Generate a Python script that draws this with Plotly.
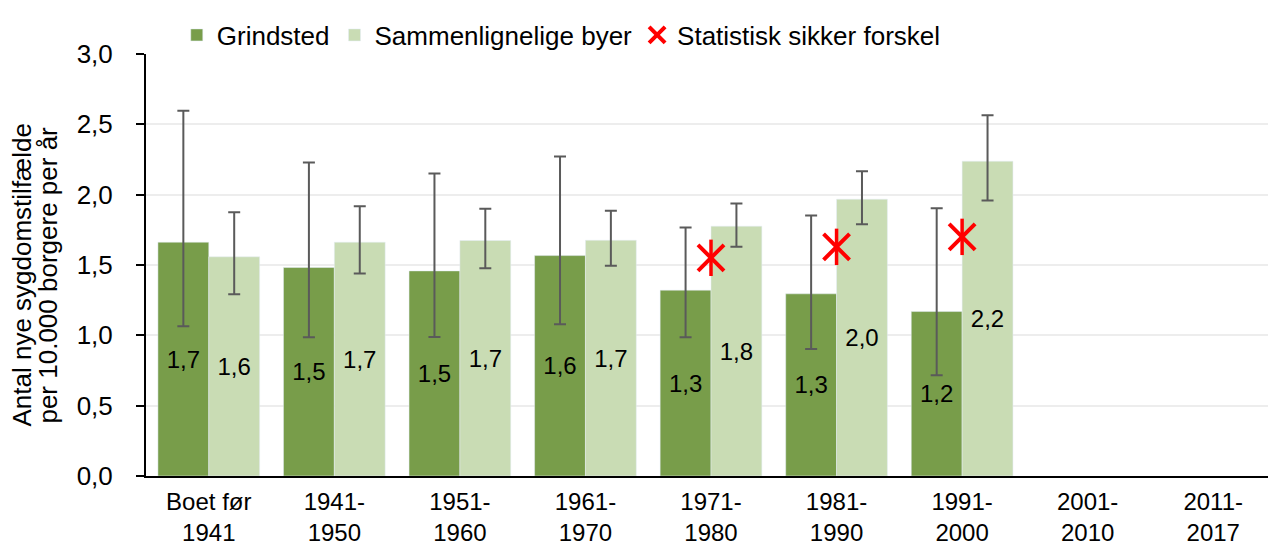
import plotly.graph_objects as go

categories = ["Boet før<br>1941", "1941-<br>1950", "1951-<br>1960", "1961-<br>1970",
              "1971-<br>1980", "1981-<br>1990", "1991-<br>2000", "2001-<br>2010", "2011-<br>2017"]

grindsted = [1.662, 1.482, 1.458, 1.567, 1.321, 1.295, 1.169, None, None]
grindsted_low = [1.065, 0.986, 0.989, 1.079, 0.986, 0.903, 0.716, None, None]
grindsted_high = [2.596, 2.229, 2.151, 2.271, 1.767, 1.852, 1.904, None, None]

sammen = [1.558, 1.662, 1.674, 1.676, 1.776, 1.968, 2.238, None, None]
sammen_low = [1.292, 1.440, 1.477, 1.494, 1.629, 1.790, 1.959, None, None]
sammen_high = [1.875, 1.918, 1.899, 1.885, 1.937, 2.167, 2.565, None, None]

sig_categories = ["1971-<br>1980", "1981-<br>1990", "1991-<br>2000"]
sig_values = [1.551, 1.629, 1.700]

y_title_lines = ["Antal nye sygdomstilfælde", "per 10.000 borgere per år"]

FONT = "Liberation Sans, Arial, sans-serif"
DARK = "#789d4a"
LIGHT = "#c9dcb4"
ERR = "#5a5a5a"
RED = "#ff0000"


def plus(v, hi):
    return [None if a is None else h - a for a, h in zip(v, hi)]


def minus(v, lo):
    return [None if a is None else a - l for a, l in zip(v, lo)]


fig = go.Figure()
fig.add_trace(go.Bar(
    name="Grindsted", x=categories, y=grindsted, marker_color=DARK,
    error_y=dict(type="data", symmetric=False, array=plus(grindsted, grindsted_high),
                 arrayminus=minus(grindsted, grindsted_low), color=ERR, thickness=2, width=6),
    texttemplate="%{y:.1f}", textposition="inside", insidetextanchor="middle",
    textfont=dict(size=24, color="black", family=FONT), textangle=0,
))
fig.add_trace(go.Bar(
    name="Sammenlignelige byer", x=categories, y=sammen, marker_color=LIGHT,
    error_y=dict(type="data", symmetric=False, array=plus(sammen, sammen_high),
                 arrayminus=minus(sammen, sammen_low), color=ERR, thickness=2, width=6),
    texttemplate="%{y:.1f}", textposition="inside", insidetextanchor="middle",
    textfont=dict(size=24, color="black", family=FONT), textangle=0,
))
fig.add_trace(go.Scatter(
    name="Statistisk sikker forskel", x=sig_categories, y=sig_values, mode="markers",
    marker=dict(symbol="x-thin-open", size=26, color=RED, line=dict(color=RED, width=4)),
))
fig.add_trace(go.Scatter(
    name="Statistisk sikker forskel", x=sig_categories, y=sig_values, mode="markers",
    marker=dict(symbol="line-ns-open", size=26, color=RED, line=dict(color=RED, width=3.5)),
    showlegend=False,
))

# y-axis title as two rotated lines (tighter line spacing like the reference)
for i, line in enumerate(y_title_lines):
    fig.add_annotation(text=line, textangle=-90, xref="paper", yref="paper",
                       x=0, y=0.475, xanchor="center", yanchor="middle",
                       xshift=-124 + 26 * i, showarrow=False,
                       font=dict(size=26, family=FONT, color="black"))

# page body has an 8px default margin, so the figure is sized to fit the window
fig.update_layout(
    width=1268, height=540,
    margin=dict(l=138, r=0, t=46, b=72, autoexpand=False),
    plot_bgcolor="white", paper_bgcolor="white",
    separators=",.",
    barmode="group", bargap=0.19, bargroupgap=0,
    font=dict(family=FONT, size=26, color="black"),
    showlegend=True,
    legend=dict(orientation="h", x=0.3675, xanchor="center", y=1.045, yanchor="middle",
                font=dict(size=26, family=FONT), itemwidth=30, tracegroupgap=0),
    yaxis=dict(range=[0, 3.0], dtick=0.5, tickformat=".1f", automargin=False,
               showgrid=True, gridcolor="#ededed", gridwidth=1.5,
               showline=True, linecolor="black", linewidth=2,
               ticks="outside", ticklen=8, tickwidth=2, tickcolor="black",
               ticklabelstandoff=18, zeroline=False,
               tickfont=dict(size=26, family=FONT)),
    xaxis=dict(showline=True, linecolor="black", linewidth=2, ticks="", ticklen=0,
               automargin=False,
               tickfont=dict(size=24, family=FONT), ticklabelstandoff=3),
)

fig.write_html("out.html")
